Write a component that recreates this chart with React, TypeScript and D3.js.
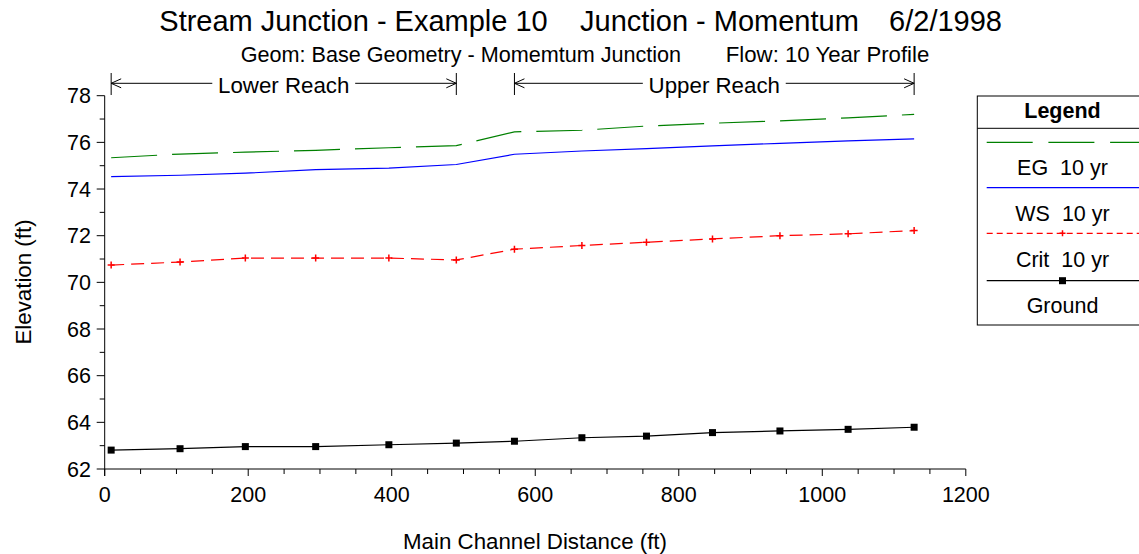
import React from "react";
import * as d3 from "d3";

const stations = [9, 105, 196, 294, 396, 490, 571, 665, 755, 847, 941, 1036, 1128];
const egValues = [75.34, 75.5, 75.58, 75.66, 75.77, 75.86, 76.45, 76.52, 76.7, 76.82, 76.92, 77.05, 77.2];
const wsValues = [74.53, 74.59, 74.68, 74.83, 74.9, 75.05, 75.49, 75.63, 75.73, 75.85, 75.96, 76.06, 76.15];
const critValues = [70.74, 70.87, 71.04, 71.04, 71.04, 70.96, 71.42, 71.58, 71.72, 71.86, 72.0, 72.08, 72.22];
const groundValues = [62.81, 62.87, 62.96, 62.96, 63.04, 63.11, 63.19, 63.34, 63.41, 63.56, 63.63, 63.7, 63.79];

const xTicks = [0, 200, 400, 600, 800, 1000, 1200];
const yTicks = [62, 64, 66, 68, 70, 72, 74, 76, 78];
const reaches = [
  { name: "Lower Reach", from: 9, to: 490 },
  { name: "Upper Reach", from: 571, to: 1128 },
];
const legendItems = ["EG\u00a0\u00a010 yr", "WS\u00a0\u00a010 yr", "Crit\u00a0\u00a010 yr", "Ground"];

const W = 1139;
const H = 554;
const FONT = "'Liberation Sans', Arial, sans-serif";

export default function App() {
  const x = d3.scaleLinear().domain([0, 1200]).range([104.7, 965.8]);
  const y = d3.scaleLinear().domain([62, 78]).range([469, 95.7]);

  const mkLine = (vals: number[]) =>
    d3
      .line<number>()
      .x((_, i) => x(stations[i]))
      .y((v) => y(v))(vals) || "";

  const xMinor = d3.range(0, 1201, 50);
  const yMinor = d3.range(62, 78.01, 1);

  const annY = 83.3;
  const legX0 = 977.3;
  const legLineX = 986.7;
  const legCx = 1062.5;

  return (
    <svg
      width={W}
      height={H}
      style={{ position: "absolute", left: 0, top: 0, background: "#fff" }}
      fontFamily={FONT}
    >
      <rect x={0} y={0} width={W} height={H} fill="#fff" />
      {/* titles */}
      <g fontSize={29} fill="#000">
        <text x={159.3} y={31}>Stream Junction - Example 10</text>
        <text x={580} y={31}>Junction - Momentum</text>
        <text x={1002} y={31} textAnchor="end">6/2/1998</text>
      </g>
      <g fill="#000">
        <text x={240.7} y={62} fontSize={21.6}>Geom: Base Geometry - Momemtum Junction</text>
        <text x={929.3} y={62} fontSize={22.2} textAnchor="end">Flow: 10 Year Profile</text>
      </g>

      {/* axes */}
      <line x1={x(0)} x2={x(1200)} y1={y(62)} y2={y(62)} stroke="#000" strokeWidth={1} />
      <line x1={x(0)} x2={x(0)} y1={y(62) + 7} y2={y(78)} stroke="#000" strokeWidth={1} />
      {xMinor.map((v) => (
        <line
          key={"xm" + v}
          x1={x(v)}
          x2={x(v)}
          y1={y(62)}
          y2={y(62) + (v % 200 === 0 ? 7 : 5)}
          stroke="#000"
        />
      ))}
      {yMinor.map((v) => (
        <line
          key={"ym" + v}
          x1={x(0) - (v % 2 === 0 ? 8 : 5)}
          x2={x(0)}
          y1={y(v)}
          y2={y(v)}
          stroke="#000"
        />
      ))}
      {xTicks.map((v) => (
        <text key={"xt" + v} x={x(v)} y={502} textAnchor="middle" fontSize={21.5} fill="#000">
          {v}
        </text>
      ))}
      {yTicks.map((v) => (
        <text key={"yt" + v} x={91} y={y(v) + 7.7} textAnchor="end" fontSize={21.5} fill="#000">
          {v}
        </text>
      ))}
      <text x={535} y={549} textAnchor="middle" fontSize={22.3} fill="#000">
        Main Channel Distance (ft)
      </text>
      <text
        transform={`translate(31,282) rotate(-90)`}
        textAnchor="middle"
        fontSize={22.3}
        fill="#000"
      >
        Elevation (ft)
      </text>

      {/* reach annotations */}
      {reaches.map((r) => {
        const a = x(r.from);
        const b = x(r.to);
        const c = (a + b) / 2;
        const tw = r.name.length * 11.9;
        return (
          <g key={r.name} stroke="#000" fill="none" strokeWidth={1}>
            <line x1={a} x2={a} y1={73} y2={95} />
            <line x1={b} x2={b} y1={73} y2={95} />
            <line x1={a} x2={c - tw / 2 - 6} y1={annY} y2={annY} />
            <line x1={c + tw / 2 + 6} x2={b} y1={annY} y2={annY} />
            <path d={`M${a + 10},${annY - 4.5}L${a},${annY}L${a + 10},${annY + 4.5}`} />
            <path d={`M${b - 10},${annY - 4.5}L${b},${annY}L${b - 10},${annY + 4.5}`} />
            <text x={c} y={92.5} textAnchor="middle" fontSize={22.3} fill="#000" stroke="none">
              {r.name}
            </text>
          </g>
        );
      })}

      {/* series */}
      <path d={mkLine(egValues)} fill="none" stroke="#008000" strokeWidth={1.2} strokeDasharray="46,15" />
      <path d={mkLine(wsValues)} fill="none" stroke="#0000ff" strokeWidth={1.2} />
      <path d={mkLine(critValues)} fill="none" stroke="#ff0000" strokeWidth={1.2} strokeDasharray="13,7" />
      {critValues.map((v, i) => (
        <path
          key={"cp" + i}
          d={`M${x(stations[i]) - 3.5},${y(v)}h7M${x(stations[i])},${y(v) - 3.5}v7`}
          stroke="#ff0000"
          strokeWidth={1.5}
        />
      ))}
      <path d={mkLine(groundValues)} fill="none" stroke="#000" strokeWidth={1.2} />
      {groundValues.map((v, i) => (
        <rect key={"gp" + i} x={x(stations[i]) - 3.5} y={y(v) - 3.5} width={7} height={7} fill="#000" />
      ))}

      {/* legend */}
      <g>
        <rect x={legX0} y={96} width={180} height={229} fill="none" stroke="#000" strokeWidth={1} />
        <line x1={legX0} x2={W + 20} y1={128.3} y2={128.3} stroke="#000" />
        <text x={legCx} y={118} textAnchor="middle" fontSize={21.5} fontWeight="bold" fill="#000">
          Legend
        </text>
        <line x1={legLineX} x2={W} y1={142.3} y2={142.3} stroke="#008000" strokeWidth={1.2} strokeDasharray="46,15.7" />
        <line x1={legLineX} x2={W} y1={187.7} y2={187.7} stroke="#0000ff" strokeWidth={1.2} />
        <line x1={legLineX} x2={W} y1={233.3} y2={233.3} stroke="#ff0000" strokeWidth={1.2} strokeDasharray="6,4" />
        <path d={`M${legCx - 3},233.3h6M${legCx},230.3v6`} stroke="#ff0000" strokeWidth={1.5} />
        <line x1={legLineX} x2={W} y1={280.7} y2={280.7} stroke="#000" strokeWidth={1.2} />
        <rect x={legCx - 3.5} y={277.2} width={7} height={7} fill="#000" />
        {legendItems.map((t, i) => (
          <text key={t} x={legCx} y={175 + i * 46} textAnchor="middle" fontSize={21.5} fill="#000">
            {t}
          </text>
        ))}
      </g>
    </svg>
  );
}
